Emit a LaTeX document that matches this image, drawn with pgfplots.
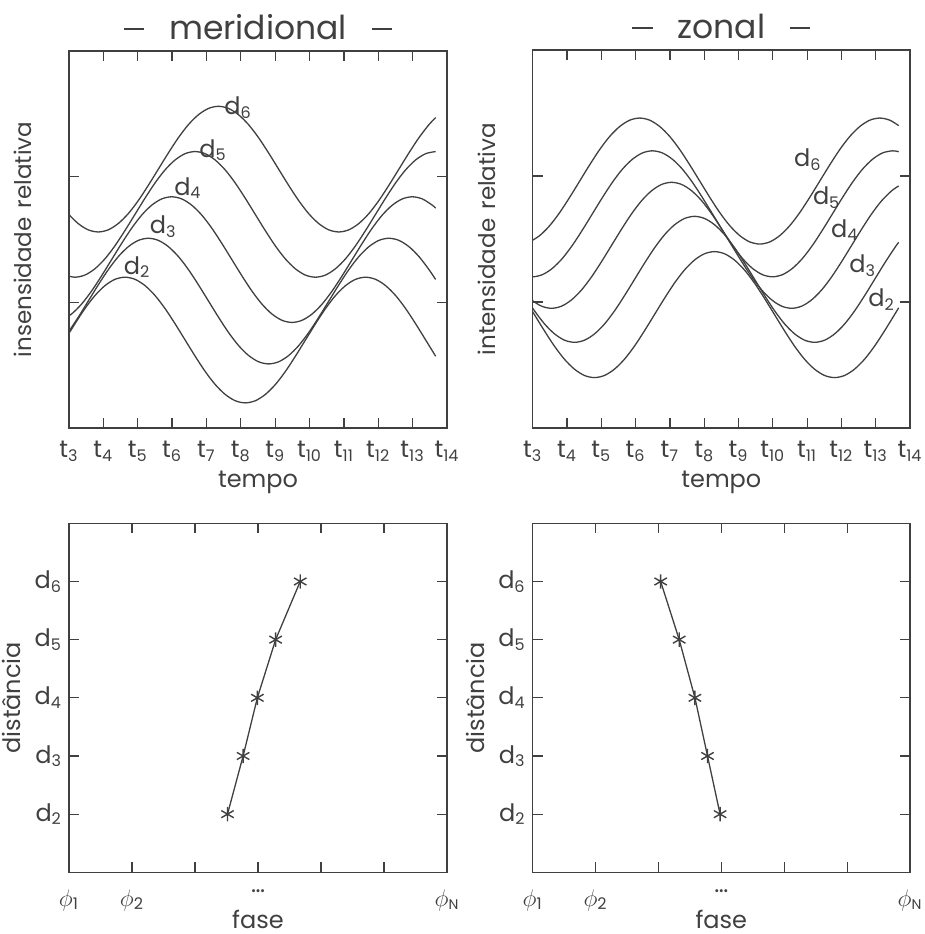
\documentclass[border=0pt]{standalone}
\usepackage{fontspec}
\setmainfont{Poppins}
\usepackage{pgfplots}
\pgfplotsset{compat=1.18}
\definecolor{ink}{gray}{0.25}
\pgfplotsset{
  panel/.style={
    scale only axis,
    axis line style={line width=0.75pt, ink},
    every tick/.style={ink, line width=0.6pt},
    major tick length=5pt,
    tick align=inside,
    xtick pos=both, ytick pos=both,
    xticklabel pos=lower, yticklabel pos=left,
    tick label style={font=\fontsize{12}{14}\selectfont, text=ink},
    label style={font=\fontsize{12}{14}\selectfont, text=ink},
    title style={font=\fontsize{16.5}{19}\selectfont, text=ink, anchor=base, yshift=0pt},
  },
  wave/.style={smooth, no marks, line width=0.65pt, ink},
}
\tikzset{lab/.style={font=\fontsize{12}{14}\selectfont, text=ink, inner sep=0pt}}
\newcommand{\tsub}[1]{t\textsubscript{#1}}
\newcommand{\dd}[1]{d\textsubscript{#1}}
\newcommand{\dash}{\raisebox{0.27em}{\rule{0.62em}{0.06em}}}
\begin{document}
\begin{tikzpicture}
\useasboundingbox (0,0) rectangle (462.5pt,-467pt);
% ---------------- top left
\begin{axis}[panel, at={(34.5pt,-25.5pt)}, anchor=north west,
  width=189pt, height=188.5pt,
  xmin=0, xmax=11, ymin=0, ymax=3,
  xtick={0,...,11},
  xticklabels={\tsub{3},\tsub{4},\tsub{5},\tsub{6},\tsub{7},\tsub{8},\tsub{9},\tsub{10},\tsub{11},\tsub{12},\tsub{13},\tsub{14}},
  xticklabel style={yshift=-3pt},
  ytick={1,2}, yticklabels={},
  xlabel={tempo}, xlabel style={yshift=2pt},
  ylabel={insensidade\hspace{0.4em}relativa}, ylabel shift=8pt,
  ylabel style={font=\fontsize{11.5}{14}\selectfont},
  title={\dash\hspace{0.75em}meridional\hspace{0.75em}\dash}]
\addplot[wave] coordinates {(-0.120,0.700) (0.172,0.829) (0.463,0.950) (0.755,1.054) (1.047,1.133) (1.338,1.183) (1.630,1.200) (1.922,1.183) (2.213,1.133) (2.505,1.054) (2.797,0.950) (3.088,0.829) (3.380,0.700) (3.672,0.571) (3.963,0.450) (4.255,0.346) (4.547,0.267) (4.838,0.217) (5.130,0.200) (5.422,0.217) (5.713,0.267) (6.005,0.346) (6.297,0.450) (6.588,0.571) (6.880,0.700) (7.172,0.829) (7.463,0.950) (7.755,1.054) (8.047,1.133) (8.338,1.183) (8.630,1.200) (8.922,1.183) (9.213,1.133) (9.505,1.054) (9.797,0.950) (10.088,0.829) (10.380,0.700) (10.670,0.571)};
\addplot[wave] coordinates {(-0.023,0.760) (0.268,0.881) (0.560,1.010) (0.852,1.139) (1.143,1.260) (1.435,1.364) (1.727,1.443) (2.018,1.493) (2.310,1.510) (2.602,1.493) (2.893,1.443) (3.185,1.364) (3.477,1.260) (3.768,1.139) (4.060,1.010) (4.352,0.881) (4.643,0.760) (4.935,0.656) (5.227,0.577) (5.518,0.527) (5.810,0.510) (6.102,0.527) (6.393,0.577) (6.685,0.656) (6.977,0.760) (7.268,0.881) (7.560,1.010) (7.852,1.139) (8.143,1.260) (8.435,1.364) (8.727,1.443) (9.018,1.493) (9.310,1.510) (9.602,1.493) (9.893,1.443) (10.185,1.364) (10.477,1.260) (10.670,1.182)};
\addplot[wave] coordinates {(-0.218,0.857) (0.073,0.907) (0.365,0.986) (0.657,1.090) (0.948,1.211) (1.240,1.340) (1.532,1.469) (1.823,1.590) (2.115,1.694) (2.407,1.773) (2.698,1.823) (2.990,1.840) (3.282,1.823) (3.573,1.773) (3.865,1.694) (4.157,1.590) (4.448,1.469) (4.740,1.340) (5.032,1.211) (5.323,1.090) (5.615,0.986) (5.907,0.907) (6.198,0.857) (6.490,0.840) (6.782,0.857) (7.073,0.907) (7.365,0.986) (7.657,1.090) (7.948,1.211) (8.240,1.340) (8.532,1.469) (8.823,1.590) (9.115,1.694) (9.407,1.773) (9.698,1.823) (9.990,1.840) (10.282,1.823) (10.573,1.773) (10.670,1.750)};
\addplot[wave] coordinates {(-0.122,1.217) (0.170,1.200) (0.462,1.217) (0.753,1.267) (1.045,1.346) (1.337,1.450) (1.628,1.571) (1.920,1.700) (2.212,1.829) (2.503,1.950) (2.795,2.054) (3.087,2.133) (3.378,2.183) (3.670,2.200) (3.962,2.183) (4.253,2.133) (4.545,2.054) (4.837,1.950) (5.128,1.829) (5.420,1.700) (5.712,1.571) (6.003,1.450) (6.295,1.346) (6.587,1.267) (6.878,1.217) (7.170,1.200) (7.462,1.217) (7.753,1.267) (8.045,1.346) (8.337,1.450) (8.628,1.571) (8.920,1.700) (9.212,1.829) (9.503,1.950) (9.795,2.054) (10.087,2.133) (10.378,2.183) (10.670,2.200)};
\addplot[wave] coordinates {(-0.317,1.810) (-0.025,1.706) (0.267,1.627) (0.558,1.577) (0.850,1.560) (1.142,1.577) (1.433,1.627) (1.725,1.706) (2.017,1.810) (2.308,1.931) (2.600,2.060) (2.892,2.189) (3.183,2.310) (3.475,2.414) (3.767,2.493) (4.058,2.543) (4.350,2.560) (4.642,2.543) (4.933,2.493) (5.225,2.414) (5.517,2.310) (5.808,2.189) (6.100,2.060) (6.392,1.931) (6.683,1.810) (6.975,1.706) (7.267,1.627) (7.558,1.577) (7.850,1.560) (8.142,1.577) (8.433,1.627) (8.725,1.706) (9.017,1.810) (9.308,1.931) (9.600,2.060) (9.892,2.189) (10.183,2.310) (10.475,2.414) (10.670,2.470)};
\node[lab] at (axis cs:1.98,1.28) {\dd{2}};
\node[lab] at (axis cs:2.74,1.60) {\dd{3}};
\node[lab] at (axis cs:3.46,1.91) {\dd{4}};
\node[lab] at (axis cs:4.19,2.21) {\dd{5}};
\node[lab] at (axis cs:4.92,2.55) {\dd{6}};
\end{axis}
% ---------------- top right
\begin{axis}[panel, at={(266.35pt,-25pt)}, anchor=north west,
  width=188.65pt, height=189pt,
  xmin=0, xmax=11, ymin=0, ymax=3,
  xtick={0,...,11},
  xticklabels={\tsub{3},\tsub{4},\tsub{5},\tsub{6},\tsub{7},\tsub{8},\tsub{9},\tsub{10},\tsub{11},\tsub{12},\tsub{13},\tsub{14}},
  xticklabel style={yshift=-3pt},
  ytick={1,2}, yticklabels={},
  xlabel={tempo}, xlabel style={yshift=2pt},
  ylabel={intensidade\hspace{0.4em}relativa}, ylabel shift=8pt,
  ylabel style={font=\fontsize{11.5}{14}\selectfont},
  title={\dash\hspace{0.75em}zonal\hspace{0.75em}\dash}]
\addplot[wave] coordinates {(-0.242,1.029) (0.050,0.900) (0.342,0.771) (0.633,0.650) (0.925,0.546) (1.217,0.467) (1.508,0.417) (1.800,0.400) (2.092,0.417) (2.383,0.467) (2.675,0.546) (2.967,0.650) (3.258,0.771) (3.550,0.900) (3.842,1.029) (4.133,1.150) (4.425,1.254) (4.717,1.333) (5.008,1.383) (5.300,1.400) (5.592,1.383) (5.883,1.333) (6.175,1.254) (6.467,1.150) (6.758,1.029) (7.050,0.900) (7.342,0.771) (7.633,0.650) (7.925,0.546) (8.217,0.467) (8.508,0.417) (8.800,0.400) (9.092,0.417) (9.383,0.467) (9.675,0.546) (9.967,0.650) (10.258,0.771) (10.550,0.900) (10.670,0.954)};
\addplot[wave] coordinates {(-0.238,1.051) (0.053,0.930) (0.345,0.826) (0.637,0.747) (0.928,0.697) (1.220,0.680) (1.512,0.697) (1.803,0.747) (2.095,0.826) (2.387,0.930) (2.678,1.051) (2.970,1.180) (3.262,1.309) (3.553,1.430) (3.845,1.534) (4.137,1.613) (4.428,1.663) (4.720,1.680) (5.012,1.663) (5.303,1.613) (5.595,1.534) (5.887,1.430) (6.178,1.309) (6.470,1.180) (6.762,1.051) (7.053,0.930) (7.345,0.826) (7.637,0.747) (7.928,0.697) (8.220,0.680) (8.512,0.697) (8.803,0.747) (9.095,0.826) (9.387,0.930) (9.678,1.051) (9.970,1.180) (10.262,1.309) (10.553,1.430) (10.670,1.474)};
\addplot[wave] coordinates {(-0.325,1.096) (-0.033,1.017) (0.258,0.967) (0.550,0.950) (0.842,0.967) (1.133,1.017) (1.425,1.096) (1.717,1.200) (2.008,1.321) (2.300,1.450) (2.592,1.579) (2.883,1.700) (3.175,1.804) (3.467,1.883) (3.758,1.933) (4.050,1.950) (4.342,1.933) (4.633,1.883) (4.925,1.804) (5.217,1.700) (5.508,1.579) (5.800,1.450) (6.092,1.321) (6.383,1.200) (6.675,1.096) (6.967,1.017) (7.258,0.967) (7.550,0.950) (7.842,0.967) (8.133,1.017) (8.425,1.096) (8.717,1.200) (9.008,1.321) (9.300,1.450) (9.592,1.579) (9.883,1.700) (10.175,1.804) (10.467,1.883) (10.670,1.921)};
\addplot[wave] coordinates {(-0.302,1.217) (-0.010,1.200) (0.282,1.217) (0.573,1.267) (0.865,1.346) (1.157,1.450) (1.448,1.571) (1.740,1.700) (2.032,1.829) (2.323,1.950) (2.615,2.054) (2.907,2.133) (3.198,2.183) (3.490,2.200) (3.782,2.183) (4.073,2.133) (4.365,2.054) (4.657,1.950) (4.948,1.829) (5.240,1.700) (5.532,1.571) (5.823,1.450) (6.115,1.346) (6.407,1.267) (6.698,1.217) (6.990,1.200) (7.282,1.217) (7.573,1.267) (7.865,1.346) (8.157,1.450) (8.448,1.571) (8.740,1.700) (9.032,1.829) (9.323,1.950) (9.615,2.054) (9.907,2.133) (10.198,2.183) (10.490,2.200) (10.670,2.193)};
\addplot[wave] coordinates {(-0.088,1.477) (0.203,1.527) (0.495,1.606) (0.787,1.710) (1.078,1.831) (1.370,1.960) (1.662,2.089) (1.953,2.210) (2.245,2.314) (2.537,2.393) (2.828,2.443) (3.120,2.460) (3.412,2.443) (3.703,2.393) (3.995,2.314) (4.287,2.210) (4.578,2.089) (4.870,1.960) (5.162,1.831) (5.453,1.710) (5.745,1.606) (6.037,1.527) (6.328,1.477) (6.620,1.460) (6.912,1.477) (7.203,1.527) (7.495,1.606) (7.787,1.710) (8.078,1.831) (8.370,1.960) (8.662,2.089) (8.953,2.210) (9.245,2.314) (9.537,2.393) (9.828,2.443) (10.120,2.460) (10.412,2.443) (10.670,2.400)};
\node[lab] at (axis cs:8.02,2.13) {\dd{6}};
\node[lab] at (axis cs:8.57,1.83) {\dd{5}};
\node[lab] at (axis cs:9.10,1.57) {\dd{4}};
\node[lab] at (axis cs:9.62,1.29) {\dd{3}};
\node[lab] at (axis cs:10.17,1.02) {\dd{2}};
\end{axis}
% ---------------- bottom left
\begin{axis}[panel, at={(34.5pt,-261.65pt)}, anchor=north west,
  width=189pt, height=174.5pt,
  xmin=0, xmax=6, ymin=1, ymax=7,
  xtick={0,...,6},
  xticklabels={$\phi$\textsubscript{1},$\phi$\textsubscript{2},,\dots,,,$\phi$\textsubscript{\scriptsize N}},
  xticklabel style={yshift=-5pt},
  ytick={2,...,6},
  yticklabels={\dd{2},\dd{3},\dd{4},\dd{5},\dd{6}},
  xlabel={fase}, xlabel style={inner sep=0pt, yshift=4pt},
  ylabel={distância}, ylabel shift=0pt]
\addplot[ink, line width=0.65pt, mark=asterisk, mark size=3.6pt, mark options={line width=0.7pt}] coordinates {(2.516,2) (2.764,3) (2.990,4) (3.280,5) (3.670,6)};
\end{axis}
% ---------------- bottom right
\begin{axis}[panel, at={(266.35pt,-261.65pt)}, anchor=north west,
  width=188.65pt, height=174.5pt,
  xmin=0, xmax=6, ymin=1, ymax=7,
  xtick={0,...,6},
  xticklabels={$\phi$\textsubscript{1},$\phi$\textsubscript{2},,\dots,,,$\phi$\textsubscript{\scriptsize N}},
  xticklabel style={yshift=-5pt},
  ytick={2,...,6},
  yticklabels={\dd{2},\dd{3},\dd{4},\dd{5},\dd{6}},
  xlabel={fase}, xlabel style={inner sep=0pt, yshift=4pt},
  ylabel={distância}, ylabel shift=0pt]
\addplot[ink, line width=0.65pt, mark=asterisk, mark size=3.6pt, mark options={line width=0.7pt}] coordinates {(2.980,2) (2.780,3) (2.580,4) (2.330,5) (2.035,6)};
\end{axis}
\end{tikzpicture}
\end{document}
